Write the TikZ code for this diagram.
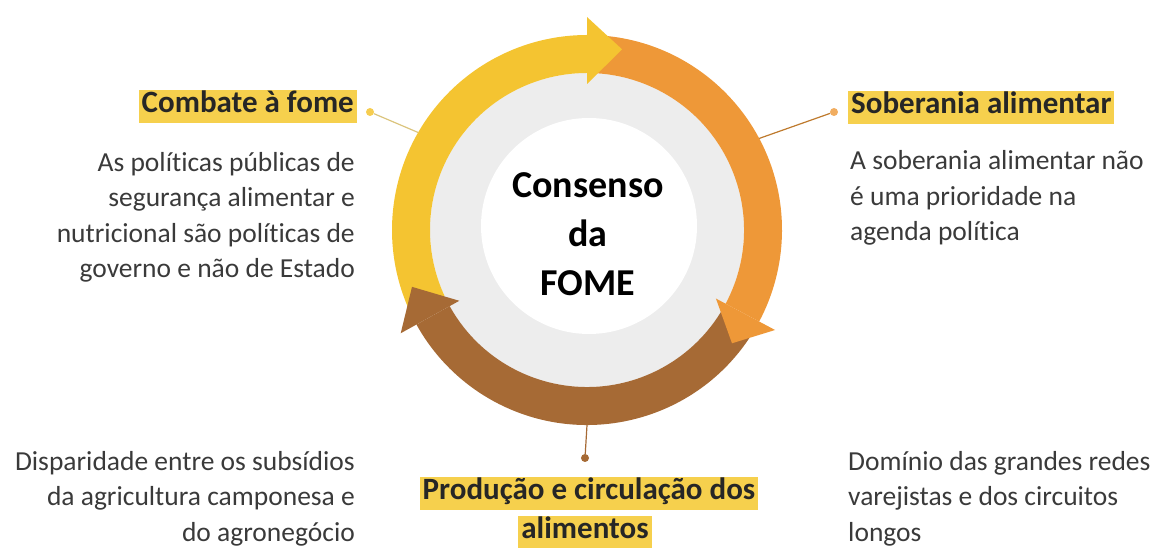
\documentclass[tikz,border=0pt]{standalone}
\usepackage{fontspec}
\setmainfont{Carlito}[Ligatures=NoCommon]
\usetikzlibrary{positioning}
\definecolor{fomeyellow}{HTML}{F4C431}
\definecolor{fomeorange}{HTML}{EE9838}
\definecolor{fomebrown}{HTML}{A66A35}
\definecolor{marker}{HTML}{F6D04D}
\definecolor{disc}{HTML}{EDEDED}
\definecolor{bodytext}{HTML}{3A3A3A}
\tikzset{headline/.style={fill=marker, inner xsep=3pt, inner ysep=3pt,
  text height=20pt, text depth=7pt, text=black!85,
  font=\fontsize{31}{36}\selectfont\bfseries}}
\tikzset{bodytxt/.style={inner sep=0pt, text=bodytext,
  font=\fontsize{27.5}{35.5}\selectfont}}
\tikzset{dotmark/.style={circle, inner sep=0pt, minimum size=8pt}}

\begin{document}
\begin{tikzpicture}[x=1pt, y=1pt]
  \useasboundingbox (0,0) rectangle (1161,548);
  \coordinate (hub) at (587,318);
  % discs
  \fill[disc] (hub) circle (157);
  \fill[white] (589,322) circle (108);
  % ring
  \foreach \hue/\from/\to in {fomeyellow/205/90, fomeorange/88/-28, fomebrown/-30/-151}
    \fill[\hue] ([shift={(\from:195)}]hub) arc (\from:\to:195) -- ([shift={(\to:157)}]hub) arc (\to:\from:157) -- cycle;
  \foreach \hue/\to/\tip in {fomeyellow/90/79, fomeorange/-28/-38, fomebrown/-151/-162}
    \fill[\hue] ([shift={(\to:213)}]hub) -- ([shift={(\tip:184)}]hub) -- ([shift={(\to:146)}]hub) -- cycle;
  \node[font=\fontsize{38}{49}\selectfont\bfseries, align=center] (core) at (588,314) {Consenso\\da\\FOME};

  % left
  \node[headline, anchor=east] (hunger) at (357,441.5) {Combate à fome};
  \node[bodytxt, align=right, anchor=north east] (hungertxt) at (355,396)
    {As políticas públicas de\\segurança alimentar e\\nutricional são políticas de\\governo e não de Estado};
  \node[dotmark, fill=fomeyellow!85!white] (hungerdot) at (370,436) {};
  \draw[fomeyellow!80!black!60, line width=1.2pt] (hungerdot) -- ([shift={(150:195)}]hub);

  % right
  \node[headline, anchor=west] (sovereign) at (848,440.5) {Soberania alimentar};
  \node[bodytxt, align=left, anchor=north west] (sovereigntxt) at (850,397.5)
    {A soberania alimentar não\\é uma prioridade na\\agenda política};
  \node[dotmark, fill=fomeorange!80!white] (sovereigndot) at (834,436) {};
  \draw[fomeorange!80!black, line width=1.2pt] (sovereigndot) -- ([shift={(28:195)}]hub);

  % bottom
  \node[dotmark, fill=fomebrown] (supplydot) at (585,90) {};
  \draw[fomebrown, line width=1.2pt] (supplydot) -- ([shift={(270:195)}]hub);
  \node[headline] (supply) at (589,54.5) {Produção e circulação dos\ };
  \node[headline] (supply2) at (585,15.5) {alimentos};
  \node[bodytxt, align=right, anchor=north east] (gaptxt) at (355,97)
    {Disparidade entre os subsídios\\da agricultura camponesa e\\do agronegócio};
  \node[bodytxt, align=left, anchor=north west] (retailtxt) at (848,97)
    {Domínio das grandes redes\\varejistas e dos circuitos\\longos};
\end{tikzpicture}
\end{document}
